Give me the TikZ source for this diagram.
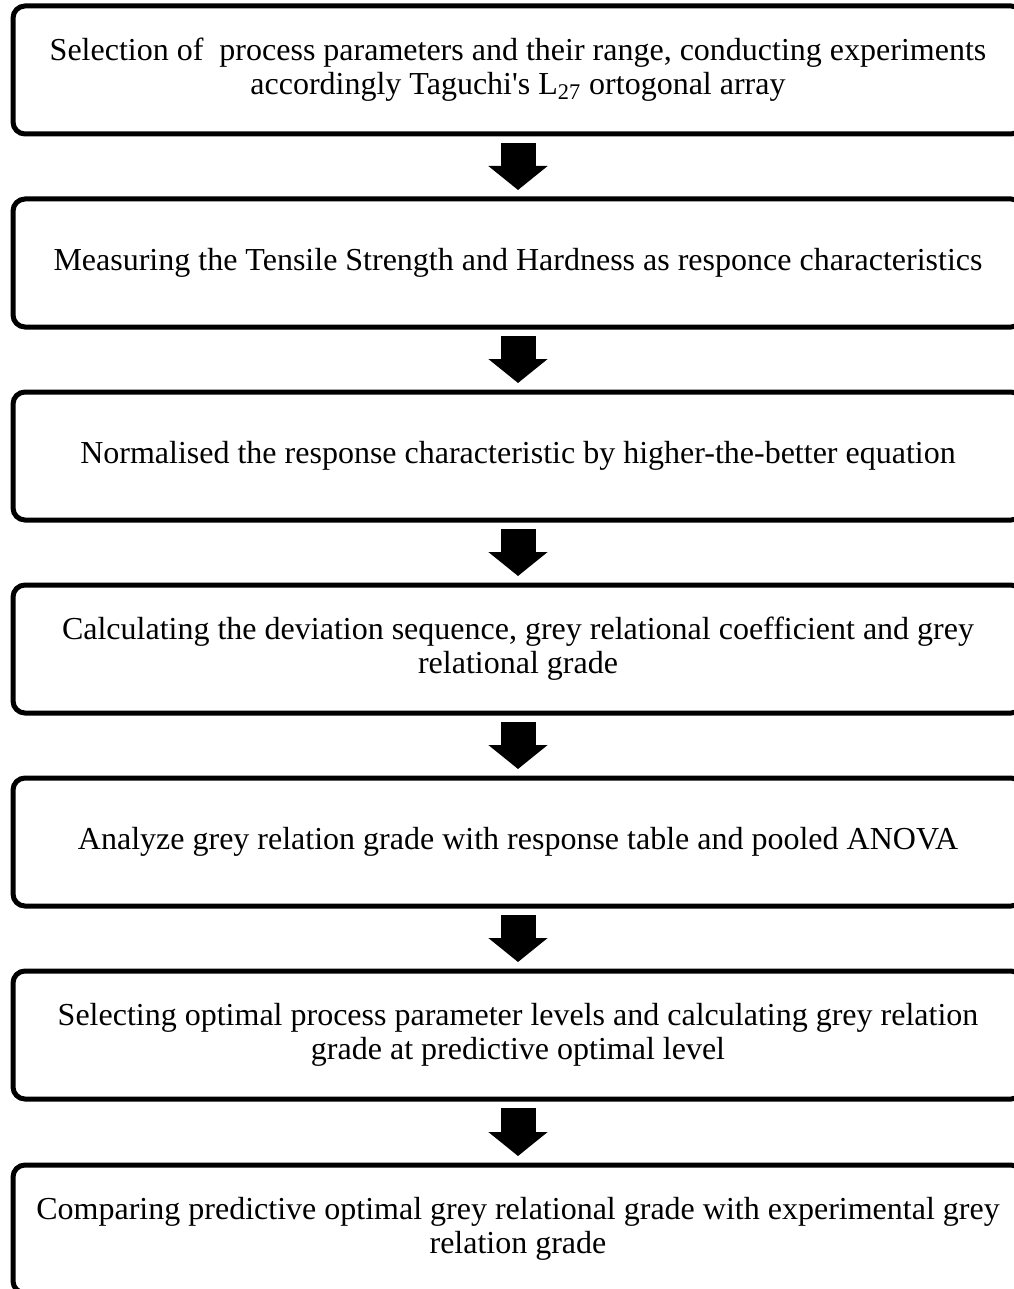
\documentclass[tikz,border=0pt]{standalone}
\usepackage{fontspec}
\setmainfont{Liberation Serif}
\usetikzlibrary{arrows.meta}

\begin{document}
\begin{tikzpicture}[
    x=0.5pt, y=-0.5pt,
    stepbox/.style={rectangle, rounded corners=6pt, draw=black, line width=2.5pt,
                    minimum width=505pt, minimum height=64pt, inner sep=0pt,
                    align=center, font=\fontsize{16}{17}\selectfont},
    arr/.style={-{Triangle[width=29pt, length=12pt]}, line width=17.5pt, black,
                shorten <=3.25pt, shorten >=3.25pt},
]
\useasboundingbox (0,0) rectangle (1013,1289);

% Step 1: parameters and L27 array
\node[stepbox] (s1) at (518, 70)
    {Selection of\ \ process parameters and their range, conducting experiments\\
     accordingly Taguchi\textquotesingle s L\textsubscript{27} ortogonal array};

% Step 2: measuring responses
\node[stepbox] (s2) at (518, 263)
    {Measuring the Tensile Strength and Hardness as responce characteristics};
\draw[arr] (s1) -- (s2);

% Step 3: normalising
\node[stepbox] (s3) at (518, 456)
    {Normalised the response characteristic by higher-the-better equation};
\draw[arr] (s2) -- (s3);

% Step 4: deviation sequence, GRC and GRG
\node[stepbox] (s4) at (518, 649)
    {Calculating the deviation sequence, grey relational coefficient and grey\\
     relational grade};
\draw[arr] (s3) -- (s4);

% Step 5: response table and ANOVA
\node[stepbox] (s5) at (518, 842)
    {Analyze grey relation grade with response table and pooled ANOVA};
\draw[arr] (s4) -- (s5);

% Step 6: optimal levels
\node[stepbox] (s6) at (518, 1035)
    {Selecting optimal process parameter levels and calculating grey relation\\
     grade at predictive optimal level};
\draw[arr] (s5) -- (s6);

% Step 7: comparison with experiment
\node[stepbox] (s7) at (518, 1229)
    {Comparing predictive optimal grey relational grade with experimental grey\\
     relation grade};
\draw[arr] (s6) -- (s7);

\end{tikzpicture}
\end{document}
